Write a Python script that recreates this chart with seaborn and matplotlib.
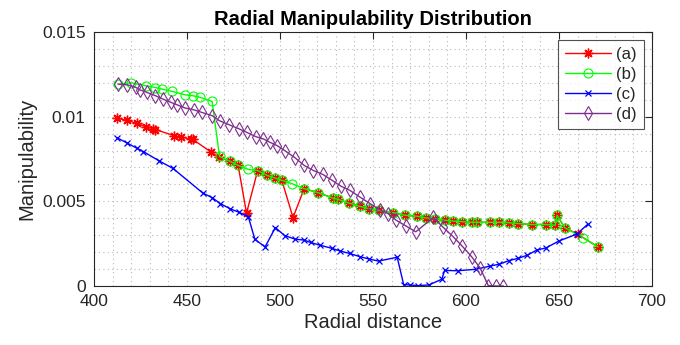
import numpy as np
import pandas as pd
import matplotlib
matplotlib.use("Agg")
import matplotlib.pyplot as plt
from matplotlib.ticker import MultipleLocator, FixedLocator
import seaborn as sns

# ---------------- data ----------------
xa = [412.5, 418, 423, 428, 431.5, 433, 443, 447, 452, 453, 463, 467, 473, 477.5, 482, 488, 493,
      497.5, 501, 507, 513, 520.5, 528.5, 531, 537, 543, 548, 553, 561, 567, 573.5, 578.5, 583.5,
      588.5, 593, 598, 603, 606, 613, 618, 623, 628, 635.5, 643, 648, 649, 653, 660, 671]
ya = [0.0099, 0.00978, 0.0096, 0.0094, 0.0093, 0.00924, 0.00888, 0.00878, 0.00869, 0.00867, 0.0079,
      0.00761, 0.00737, 0.00712, 0.0043, 0.00682, 0.00653, 0.00637, 0.00624, 0.00404, 0.00575,
      0.00551, 0.00519, 0.00512, 0.0049, 0.0047, 0.00457, 0.00447, 0.00433, 0.00418, 0.00412,
      0.00402, 0.00398, 0.00388, 0.00384, 0.0038, 0.00376, 0.00376, 0.00376, 0.00376, 0.00374,
      0.00369, 0.00363, 0.00363, 0.00359, 0.00418, 0.00345, 0.00306, 0.00231]

xb = [413, 420, 428, 433, 436.5, 442, 449, 453, 457, 463.5, 467.5, 473, 477.5, 483, 488, 493,
      497.5, 501, 506.5, 513, 520.5, 528.5, 531, 537, 543, 548, 553, 561, 567, 573.5, 578.5, 583.5,
      588.5, 593, 598, 603, 606, 613, 618, 623, 628, 635.5, 643, 648, 649, 653, 663, 671]
yb = [0.0119, 0.0120, 0.01182, 0.01172, 0.01163, 0.01149, 0.01129, 0.01124, 0.01114, 0.0109,
      0.00765, 0.00737, 0.00712, 0.00688, 0.00682, 0.00653, 0.00637, 0.00624, 0.00604, 0.00575,
      0.00551, 0.00519, 0.00512, 0.0049, 0.0047, 0.00457, 0.00447, 0.00433, 0.00418, 0.00412,
      0.00402, 0.00398, 0.00388, 0.00384, 0.0038, 0.00376, 0.00376, 0.00376, 0.00376, 0.00374,
      0.00369, 0.00363, 0.00363, 0.00359, 0.00418, 0.00345, 0.00284, 0.00231]

xc = [412.5, 418, 423, 426.5, 435, 442.5, 458.5, 463.5, 468, 473, 478, 483, 486.5, 492, 497.5,
      502.5, 508, 513, 516.5, 521.5, 528, 532.5, 537.5, 543, 548, 553, 563, 566.5, 570, 574, 580,
      587, 588.5, 595.5, 605.5, 613, 618, 623, 628, 633, 638, 643, 650, 659.5, 665.5]
yc = [0.00875, 0.00843, 0.00814, 0.00794, 0.00739, 0.00694, 0.00549, 0.00522, 0.00486, 0.00457,
      0.00435, 0.00408, 0.00275, 0.00231, 0.00345, 0.00298, 0.00277, 0.00271, 0.00257, 0.00241,
      0.00222, 0.00206, 0.00192, 0.00173, 0.00159, 0.00147, 0.00170, 0.00008, 0.00006, 0.00002,
      0.00006, 0.0004, 0.00092, 0.0009, 0.00099, 0.00118, 0.00129, 0.0015, 0.00163, 0.00182,
      0.00212, 0.00225, 0.00266, 0.00306, 0.00365]

xd = [413, 418, 422.5, 424.5, 428.5, 433, 437, 441.5, 444.5, 449, 453.5, 458, 463.5, 467.5, 472.5,
      478, 482, 487, 491, 494.5, 498.5, 502.5, 508, 513, 518, 523, 528, 533, 537.5, 543, 548.5,
      553.5, 558, 562.5, 567.5, 573, 582.5, 587.5, 593, 598, 603, 607.5, 612, 616, 620]
yd = [0.01192, 0.01188, 0.01173, 0.01159, 0.01143, 0.01124, 0.01104, 0.01084, 0.01071, 0.01051,
      0.01041, 0.01025, 0.01006, 0.00976, 0.00953, 0.00928, 0.00908, 0.00882, 0.00869, 0.00849,
      0.00829, 0.00800, 0.00758, 0.00712, 0.00682, 0.00659, 0.00624, 0.00588, 0.00565, 0.00525,
      0.00486, 0.00451, 0.00428, 0.00388, 0.00356, 0.0032, 0.00405, 0.00349, 0.00292, 0.00235,
      0.00173, 0.00108, 0.00002, 0.0, 0.0]

labels = ["(a)", "(b)", "(c)", "(d)"]
xticks = [400, 450, 500, 550, 600, 650, 700]
yticks = [0, 0.005, 0.01, 0.015]
yticklabels = ["0", "0.005", "0.01", "0.015"]

# ---------------- style ----------------
sns.set_theme(style="white")
plt.rcParams["font.family"] = ["Liberation Sans", "DejaVu Sans"]

fig = plt.figure(figsize=(6.8, 3.45), dpi=100)
ax = fig.add_axes([94 / 680, 1 - 286 / 345, (652 - 94) / 680, (286 - 32) / 345])

colors = ["#ff0000", "#00ff00", "#0000ff", "#7e2f8e"]
styles = [
    dict(marker=(8, 2, 0), markersize=7, markeredgewidth=1.0, markerfacecolor="none"),
    dict(marker="o", markersize=6.5, markeredgewidth=0.8, markerfacecolor="none"),
    dict(marker="x", markersize=5, markeredgewidth=0.9, markerfacecolor="none"),
    dict(marker="d", markersize=7, markeredgewidth=0.8, markerfacecolor="none"),
]
series = [(xa, ya), (xb, yb), (xc, yc), (xd, yd)]
for (xs, ys), lab, col, st in zip(series, labels, colors, styles):
    df = pd.DataFrame({"x": xs, "y": ys})
    sns.lineplot(data=df, x="x", y="y", sort=False, estimator=None, ax=ax, label=lab,
                 color=col, markeredgecolor=col, linewidth=1.0, linestyle="-", **st)

ax.set_xlim(400, 700)
ax.set_ylim(0, 0.015)
ax.xaxis.set_major_locator(FixedLocator(xticks))
ax.yaxis.set_major_locator(FixedLocator(yticks))
ax.set_yticklabels(yticklabels)
ax.xaxis.set_minor_locator(MultipleLocator(10))
ax.yaxis.set_minor_locator(MultipleLocator(0.001))
ax.grid(which="both", linestyle=(0, (1, 3)), color="#b8b8b8", linewidth=0.8)
ax.tick_params(which="major", direction="in", length=5, width=0.8, top=True, right=True,
               labelsize=12.5, colors="#262626", pad=6)
ax.tick_params(which="minor", length=0, top=True, right=True)
for sp in ax.spines.values():
    sp.set_color("#262626")
    sp.set_linewidth(0.8)

ax.set_xlabel("Radial distance", fontsize=14.5, color="#262626", labelpad=3)
ax.set_ylabel("Manipulability", fontsize=14.5, color="#262626", labelpad=4)
ax.set_title("Radial Manipulability Distribution", fontsize=14.5, fontweight="bold", color="black", pad=5)

leg = ax.legend(loc="upper right", fontsize=12, frameon=True, fancybox=False, edgecolor="#262626",
                handlelength=2.8, borderaxespad=0.5, labelspacing=0.3, borderpad=0.4,
                handletextpad=0.3)
leg.get_frame().set_linewidth(0.8)

fig.savefig("out.png", dpi=100)
